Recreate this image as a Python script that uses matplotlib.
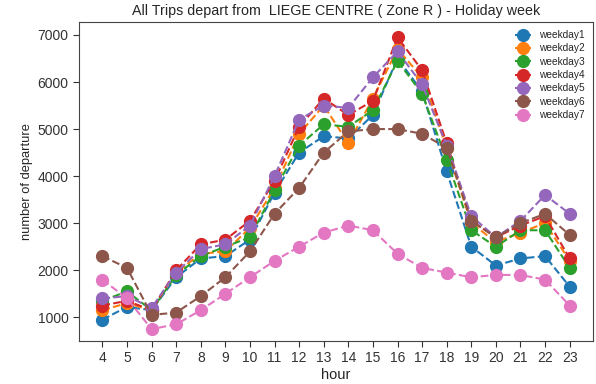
import matplotlib
matplotlib.use("Agg")
import matplotlib.pyplot as plt

# departures per hour for each day of the holiday week
hours = list(range(4, 24))
weekday1 = [950, 1220, 1150, 1850, 2250, 2300, 2650, 3650, 4500, 4850,
            4800, 5300, 6500, 5800, 4100, 2500, 2100, 2250, 2300, 1650]
weekday2 = [1150, 1300, 1150, 1950, 2350, 2400, 2900, 3750, 4900, 5500,
            4700, 5650, 6700, 6100, 4600, 3000, 2600, 2800, 3000, 2200]
weekday3 = [1350, 1550, 1150, 1900, 2300, 2500, 2700, 3700, 4650, 5100,
            5050, 5400, 6450, 5750, 4350, 2850, 2500, 2850, 2850, 2050]
weekday4 = [1250, 1350, 1150, 2000, 2550, 2650, 3050, 3900, 5050, 5650,
            5300, 5600, 6950, 6250, 4700, 3050, 2700, 2950, 3150, 2250]
weekday5 = [1400, 1450, 1200, 1950, 2450, 2550, 2950, 4000, 5200, 5500,
            5450, 6100, 6650, 5950, 4650, 3150, 2700, 3050, 3600, 3200]
weekday6 = [2300, 2050, 1050, 1100, 1450, 1850, 2400, 3200, 3750, 4500,
            4950, 5000, 5000, 4900, 4600, 3050, 2700, 3000, 3200, 2750]
weekday7 = [1800, 1400, 750, 850, 1150, 1500, 1850, 2200, 2500, 2800,
            2950, 2850, 2350, 2050, 1950, 1850, 1900, 1900, 1800, 1250]

series = [weekday1, weekday2, weekday3, weekday4, weekday5, weekday6, weekday7]
labels = ["weekday1", "weekday2", "weekday3", "weekday4",
          "weekday5", "weekday6", "weekday7"]

plt.rcParams["font.family"] = ["Liberation Sans", "DejaVu Sans"]
plt.rcParams["axes.edgecolor"] = "#444444"
plt.rcParams["text.color"] = "#262626"
plt.rcParams["axes.labelcolor"] = "#262626"
plt.rcParams["xtick.color"] = "#333333"
plt.rcParams["ytick.color"] = "#333333"

fig, ax = plt.subplots(figsize=(5.96, 3.84), dpi=100)
fig.subplots_adjust(left=0.1326, right=0.995, top=0.9427, bottom=0.112)

for vals, lab in zip(series, labels):
    ax.plot(hours, vals, "o--", markersize=8.5, linewidth=1.5, label=lab)

ax.set_xticks(hours)
ax.set_yticks([1000, 2000, 3000, 4000, 5000, 6000, 7000])
ax.set_xlim(3.05, 23.95)
ax.set_ylim(496, 7276)
ax.tick_params(labelsize=10, length=4)
ax.set_xlabel("hour", fontsize=10.5, labelpad=2)
ax.set_ylabel("number of departure", fontsize=9.3, labelpad=3)
ax.set_title("All Trips depart from  LIEGE CENTRE ( Zone R ) - Holiday week",
             fontsize=10.3, pad=5)
ax.legend(fontsize=7.3, frameon=False, loc="upper right", handlelength=1.6,
          labelspacing=0.33, borderaxespad=0.4)

fig.savefig("out.png", dpi=100)
